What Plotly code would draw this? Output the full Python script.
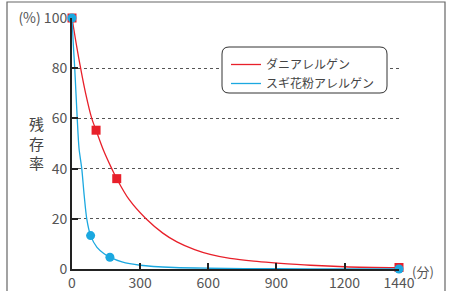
import plotly.graph_objects as go

# Marker data (minutes, % remaining)
mite_t = [0, 106, 197, 1440]
mite_v = [100, 55.3, 36, 0.6]
cedar_t = [0, 82, 167, 1440]
cedar_v = [100, 13.3, 4.7, 0]

# Curve points
mite_curve_t = [0, 20, 38, 60, 87, 106, 140, 175, 197, 252, 326, 400, 462, 540, 608, 696, 800, 900, 1050, 1200, 1440]
mite_curve_v = [100, 89, 80, 70, 60, 55.3, 47, 40, 36, 27.6, 20, 14.3, 10.8, 7.7, 5.8, 4.2, 3.1, 2.4, 1.5, 0.9, 0.5]
cedar_curve_t = [0, 6, 12, 23, 31, 43, 54, 65, 82, 110, 140, 167, 220, 300, 450, 600, 900, 1200, 1440]
cedar_curve_v = [100, 89, 80, 60, 48, 40, 29, 20, 13.3, 8.6, 6.2, 4.7, 2.8, 1.5, 0.6, 0.3, 0.1, 0, 0]

x_ticks = [0, 300, 600, 900, 1200, 1440]
y_ticks = [0, 20, 40, 60, 80, 100]
y_ticktext = ["0", "20", "40", "60", "80", "(%) 100"]

RED = "#e8202a"
BLUE = "#1ba8e0"
FONT = "Noto Sans CJK JP"

fig = go.Figure()

fig.add_trace(go.Scatter(x=mite_curve_t, y=mite_curve_v, mode="lines",
                         line=dict(color=RED, width=1.3, shape="spline", smoothing=1.0),
                         name="ダニアレルゲン", cliponaxis=False))
fig.add_trace(go.Scatter(x=cedar_curve_t, y=cedar_curve_v, mode="lines",
                         line=dict(color=BLUE, width=1.3, shape="spline", smoothing=0.8),
                         name="スギ花粉アレルゲン", cliponaxis=False))
fig.add_trace(go.Scatter(x=mite_t, y=mite_v, mode="markers",
                         marker=dict(symbol="square", size=9, color=RED),
                         showlegend=False, cliponaxis=False))
fig.add_trace(go.Scatter(x=cedar_t, y=cedar_v, mode="markers",
                         marker=dict(symbol="circle", size=9, color=BLUE),
                         showlegend=False, cliponaxis=False))

# Rounded legend box
x0, x1, y0, y1, r = 222, 387, 47, 93, 7
W, H = 461, 291
L, R, T, B = 72, 62, 18, 22
pw, ph = W - L - R, H - T - B
def px(x): return (x - L) / pw
def py(y): return 1 - (y - T) / ph
path = (f"M {px(x0+r)},{py(y0)} L {px(x1-r)},{py(y0)} Q {px(x1)},{py(y0)} {px(x1)},{py(y0+r)} "
        f"L {px(x1)},{py(y1-r)} Q {px(x1)},{py(y1)} {px(x1-r)},{py(y1)} "
        f"L {px(x0+r)},{py(y1)} Q {px(x0)},{py(y1)} {px(x0)},{py(y1-r)} "
        f"L {px(x0)},{py(y0+r)} Q {px(x0)},{py(y0)} {px(x0+r)},{py(y0)} Z")
fig.add_shape(type="path", path=path, xref="paper", yref="paper",
              line=dict(color="#333333", width=1), fillcolor="white", layer="above")

# Outer frame
fig.add_shape(type="rect", xref="paper", yref="paper",
              x0=px(7), x1=px(445), y0=py(300), y1=py(2),
              line=dict(color="#666666", width=1.2), fillcolor="rgba(0,0,0,0)", layer="below")

fig.add_annotation(text="残<br>存<br>率", xref="paper", yref="paper",
                   x=px(27), y=py(143), showarrow=False,
                   font=dict(family=FONT, size=15, color="#444444"))
fig.add_annotation(text="(分)", xref="paper", yref="paper",
                   x=px(410), y=py(283), xanchor="left", showarrow=False,
                   font=dict(family=FONT, size=13, color="#555555"))

fig.update_layout(
    width=W, height=H,
    margin=dict(l=L, r=R, t=T, b=B, autoexpand=False),
    paper_bgcolor="white", plot_bgcolor="white",
    font=dict(family=FONT, color="#555555", size=14),
    showlegend=True,
    legend=dict(x=px(226), y=py(50), xanchor="left", yanchor="top",
                bgcolor="rgba(0,0,0,0)", borderwidth=0,
                font=dict(family=FONT, size=12, color="#444444"),
                itemwidth=30, tracegroupgap=0),
    xaxis=dict(range=[0, 1440], tickvals=x_ticks, ticks="inside", ticklen=6,
               tickcolor="#222222", tickwidth=1.5, showgrid=False, zeroline=False,
               showline=True, linecolor="#222222", linewidth=2, automargin=False,
               tickfont=dict(family=FONT, size=14, color="#555555")),
    yaxis=dict(range=[0, 100], tickvals=y_ticks, ticktext=y_ticktext, ticks="inside",
               ticklen=6, tickcolor="#222222", tickwidth=1.5, automargin=False,
               showgrid=True, gridcolor="#555555", griddash="3px,3px", gridwidth=1,
               zeroline=False, showline=True, linecolor="#222222", linewidth=2,
               tickfont=dict(family=FONT, size=14, color="#555555")),
)

fig.write_html("out.html", config={"displayModeBar": False},
               post_script="document.body.style.margin='0';")
